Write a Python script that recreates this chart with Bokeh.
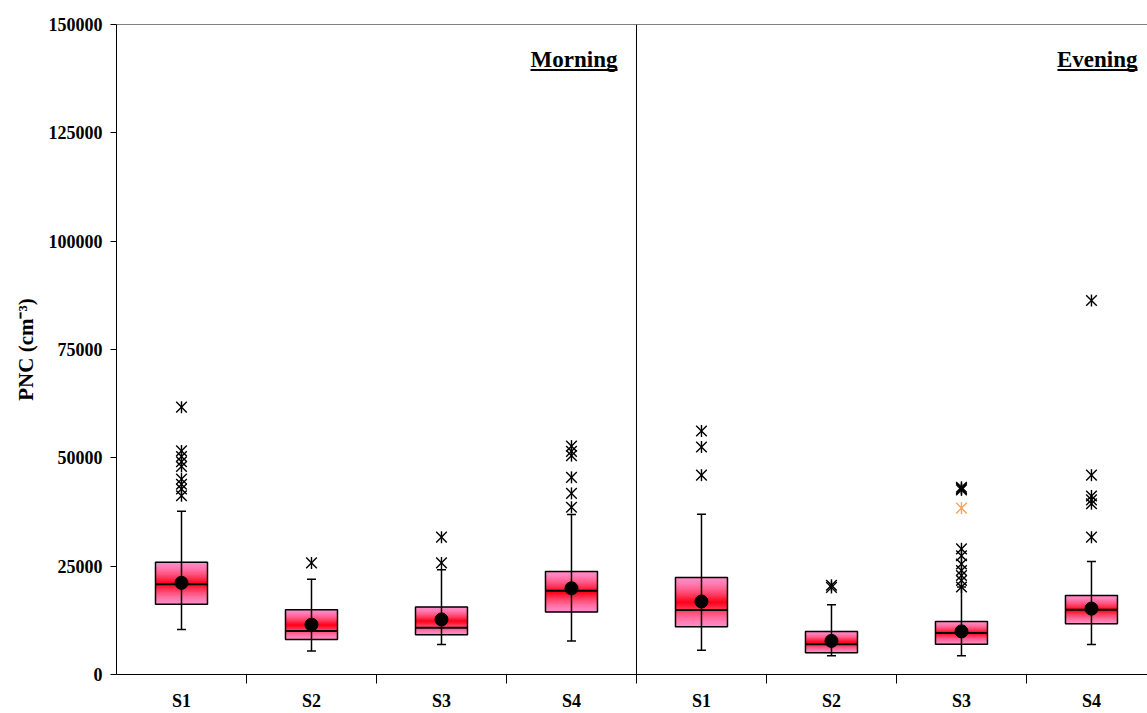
import numpy as np
from bokeh.plotting import figure
from bokeh.models import (FixedTicker, Span, Label, Range1d, ColumnDataSource,
                          NumeralTickFormatter)
from bokeh.embed import file_html
from bokeh.resources import INLINE

# ---------------- data ----------------
categories = ["S1", "S2", "S3", "S4", "S1", "S2", "S3", "S4"]
periods = ["Morning", "Evening"]
q1 = [16200, 8050, 9200, 14400, 11000, 5000, 7000, 11700]
median = [20800, 10050, 10800, 19300, 14900, 7000, 9600, 14950]
q3 = [25900, 14950, 15550, 23750, 22400, 9950, 12250, 18250]
mean = [21150, 11500, 12700, 19900, 16850, 7750, 9950, 15200]
whisker_low = [10400, 5450, 6900, 7750, 5600, 4300, 4300, 6900]
whisker_high = [37700, 22000, 24150, 36950, 37000, 16100, 20200, 26050]
outliers = [
    [61700, 51600, 50300, 49100, 48000, 45100, 43900, 42800, 41250],
    [25750],
    [31700, 25750],
    [52700, 51500, 50500, 45500, 41800, 38600],
    [56200, 52500, 46000],
    [20600, 20100],
    [43200, 42900, 42600, 29000, 27400, 25500, 24000, 22850, 21700, 20200],
    [86300, 46000, 41200, 40300, 39400, 31700],
]
orange_outlier_cat = [7]
orange_outlier_val = [38400]

# ---------------- figure ----------------
FONT = "Liberation Serif"
p = figure(width=1147, height=713, x_range=Range1d(0.5, 8.431),
           y_range=Range1d(0, 150000), output_backend="svg",
           toolbar_location=None, min_border_left=116, min_border_right=0,
           min_border_top=24, min_border_bottom=37)
p.outline_line_color = None
p.xgrid.grid_line_color = None
p.ygrid.grid_line_color = None
p.background_fill_color = "white"
p.border_fill_color = "white"

xs = np.arange(1, len(categories) + 1)

# gradient boxes (pink edges -> red centre)
N = 30
edge = np.array([255, 140, 200])
centre = np.array([255, 0, 20])
gx, gb, gt, gc = [], [], [], []
for i, x in enumerate(xs):
    lo, hi = q1[i], q3[i]
    for k in range(N):
        t = (k + 0.5) / N
        f = (1 - abs(2 * t - 1)) ** 1.5
        c = edge + (centre - edge) * f
        gx.append(x)
        gb.append(lo + (hi - lo) * k / N)
        gt.append(min(hi, lo + (hi - lo) * (k + 1.6) / N))
        gc.append("#%02x%02x%02x" % tuple(int(round(v)) for v in c))
grad = ColumnDataSource(dict(left=[x - 0.2 for x in gx], right=[x + 0.2 for x in gx],
                             bottom=gb, top=gt, color=gc))
p.quad(left="left", right="right", bottom="bottom", top="top", source=grad,
       fill_color="color", line_color="color", line_width=0.6)

box = ColumnDataSource(dict(x=xs, q1=q1, q3=q3, med=median, mean=mean,
                            lo=whisker_low, hi=whisker_high,
                            left=xs - 0.2, right=xs + 0.2))
p.quad(left="left", right="right", bottom="q1", top="q3", source=box,
       fill_color=None, line_color="black", line_width=1.5)
# whisker line through box
p.segment(x0="x", y0="lo", x1="x", y1="hi", source=box, line_color="black", line_width=1.5)
p.scatter(x="x", y="lo", source=box, marker="dash", size=9, line_color="black", line_width=1.5)
p.scatter(x="x", y="hi", source=box, marker="dash", size=9, line_color="black", line_width=1.5)
# median
p.segment(x0="left", y0="med", x1="right", y1="med", source=box, line_color="black", line_width=2)
# mean
p.scatter(x="x", y="mean", source=box, marker="circle", size=13, fill_color="black", line_color="black")

# outliers (star = x + vertical dash)
ox, oy = [], []
for i, vals in enumerate(outliers):
    for v in vals:
        ox.append(xs[i])
        oy.append(v)
p.scatter(ox, oy, marker="x", size=15, line_color="black", line_width=1.4)
p.scatter(ox, oy, marker="dash", angle=np.pi / 2, size=12, line_color="black", line_width=1.4)
p.scatter(orange_outlier_cat, orange_outlier_val, marker="x", size=15, line_color="#F4A460", line_width=1.4)
p.scatter(orange_outlier_cat, orange_outlier_val, marker="dash", angle=np.pi / 2, size=12,
          line_color="#F4A460", line_width=1.4)

# top border and divider
p.add_layout(Span(location=150000, dimension="width", line_color="black", line_width=1))
p.add_layout(Span(location=4.5, dimension="height", line_color="black", line_width=1))

# period labels (underlined)
lab_y = 141900
ul_y = 139500
p.add_layout(Label(x=4.354, y=lab_y, text=periods[0], text_align="right",
                   text_baseline="alphabetic", text_font=FONT, text_font_style="bold",
                   text_font_size="23px", text_color="black"))
p.add_layout(Label(x=8.354, y=lab_y, text=periods[1], text_align="right",
                   text_baseline="alphabetic", text_font=FONT, text_font_style="bold",
                   text_font_size="23px", text_color="black"))
p.segment(x0=[4.354 - 87 / 130, 8.354 - 80 / 130], y0=[ul_y, ul_y],
          x1=[4.354, 8.354], y1=[ul_y, ul_y], line_color="black", line_width=2)

# axes
xa = p.xaxis[0]
xa.ticker = FixedTicker(ticks=list(xs), minor_ticks=[x + 0.5 for x in xs])
xa.major_label_overrides = {int(x): c for x, c in zip(xs, categories)}
xa.major_tick_out = 0
xa.major_tick_in = 0
xa.minor_tick_out = 9
xa.minor_tick_in = 0
xa.minor_tick_line_color = "black"
xa.axis_line_color = "black"
xa.major_label_standoff = 7
xa.major_label_text_font = FONT
xa.major_label_text_font_style = "bold"
xa.major_label_text_font_size = "18px"
xa.major_label_text_color = "black"

ya = p.yaxis[0]
ya.ticker = FixedTicker(ticks=list(range(0, 150001, 25000)), minor_ticks=[])
ya.formatter = NumeralTickFormatter(format="0")
ya.major_tick_out = 6
ya.major_tick_in = 0
ya.major_tick_line_color = "black"
ya.axis_line_color = "black"
ya.major_label_standoff = 8
ya.major_label_text_font = FONT
ya.major_label_text_font_style = "bold"
ya.major_label_text_font_size = "18px"
ya.major_label_text_color = "black"
ya.axis_label = "PNC (cm\u207b\u00b3)"
ya.axis_label_text_font = FONT
ya.axis_label_text_font_style = "bold"
ya.axis_label_text_font_size = "21px"
ya.axis_label_text_color = "black"
ya.axis_label_standoff = 8

open("out.html", "w").write(file_html(p, INLINE))
